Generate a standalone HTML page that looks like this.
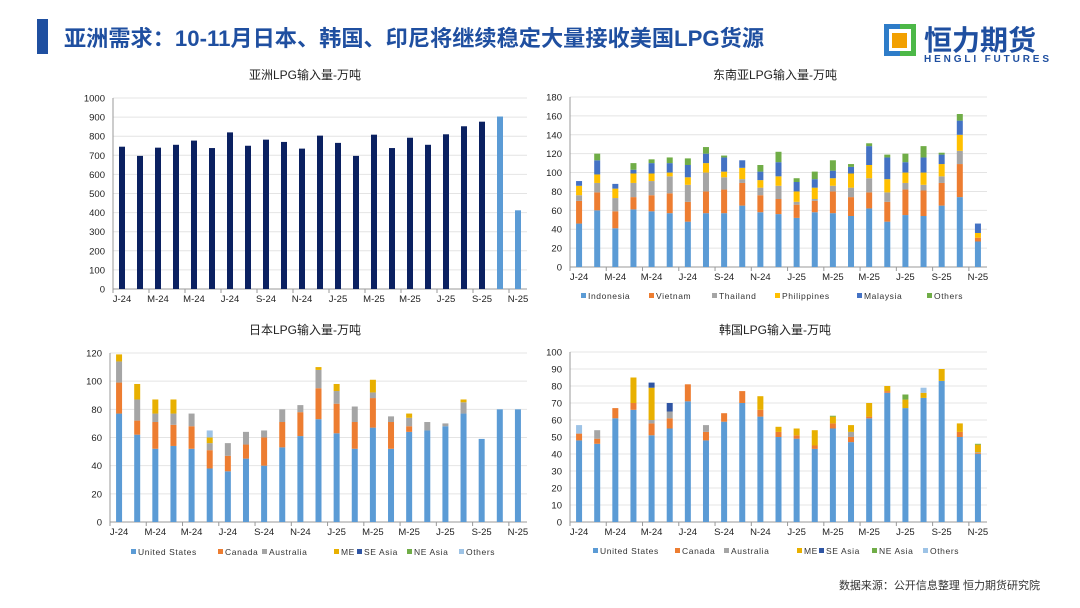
<!DOCTYPE html>
<html><head><meta charset="utf-8"><style>
body{margin:0;background:#fff;}
svg{display:block;font-family:"Liberation Sans","Noto Sans CJK SC",sans-serif;}
</style></head><body>
<svg id="s" width="1080" height="608" viewBox="0 0 1080 608">
<rect x="37" y="19" width="11" height="35" fill="#1F4FA0"/>
<text x="64" y="46" font-size="22" font-weight="bold" fill="#1F4FA0" textLength="700" lengthAdjust="spacingAndGlyphs">亚洲需求：10-11月日本、韩国、印尼将继续稳定大量接收美国LPG货源</text>
<g>
<rect x="884" y="24" width="16" height="32" fill="#2E7CC8"/><rect x="900" y="24" width="16" height="32" fill="#4CB848"/>
<rect x="889" y="29" width="22" height="22" fill="#fff"/><rect x="892" y="33" width="15" height="15" fill="#F2A000"/>
<text x="924" y="50" font-size="28" font-weight="bold" fill="#1F4FA0">恒力期货</text>
<text x="924" y="62" font-size="10" font-weight="bold" fill="#1F4FA0" textLength="125">HENGLI FUTURES</text>
</g>
<text x="1040" y="589" font-size="11" fill="#333" text-anchor="end">数据来源：公开信息整理  恒力期货研究院</text>
<g id="c1"></g>
<g id="c2"></g>
<g id="c3"></g>
<g id="c4"></g>
</svg>
<script>
const months = ["J-24","F-24","M-24","A-24","M-24","J-24","J-24","A-24","S-24","O-24","N-24","D-24","J-25","F-25","M-25","A-25","M-25","J-25","J-25","A-25","S-25","O-25","N-25"];
// Chart 1: Asia
const asiaTotal = [745,697,740,755,777,738,820,750,782,770,735,803,765,697,808,738,792,755,810,852,876,903,412];
const asiaTicks = [0,100,200,300,400,500,600,700,800,900,1000];
// Chart 2: SE Asia
const seaNames = ["Indonesia","Vietnam","Thailand","Philippines","Malaysia","Others"];
const seaIndonesia = [46,60,41,61,59,57,48,57,57,65,58,56,52,58,57,54,62,48,55,54,65,74,27];
const seaVietnam = [24,19,18,13,17,21,21,23,25,24,18,16,14,12,23,20,17,21,27,27,24,35,4];
const seaThailand = [6,10,14,15,15,18,18,20,13,4,8,14,3,2,6,10,15,10,7,6,7,14,0];
const seaPhilippines = [10,9,10,10,8,4,8,10,6,12,8,10,11,12,8,15,14,14,11,13,13,17,5];
const seaMalaysia = [5,15,5,4,11,10,13,10,15,8,9,15,10,9,8,7,20,23,11,16,10,15,10];
const seaOthers = [0,7,0,7,4,6,7,7,2,0,7,11,4,8,11,3,3,3,9,12,2,7,0];
const seaTicks = [0,20,40,60,80,100,120,140,160,180];
// Chart 3: Japan
const srcNames = ["United States","Canada","Australia","ME","SE Asia","NE Asia","Others"];
const jpUS = [77,62,52,54,52,38,36,45,40,53,61,73,63,52,67,52,64,65,68,77,59,80,80];
const jpCanada = [22,10,19,15,16,13,11,10,20,18,17,22,21,19,21,19,4,0,0,0,0,0,0];
const jpAustralia = [15,15,6,8,9,5,9,9,5,9,5,13,9,11,4,4,6,6,2,8,0,0,0];
const jpME = [5,11,10,10,0,4,0,0,0,0,0,2,5,0,9,0,3,0,0,2,0,0,0];
const jpSE = new Array(23).fill(0);
const jpNE = new Array(23).fill(0);
const jpOthers = [0,0,0,0,0,5,0,0,0,0,0,0,0,0,0,0,0,0,0,0,0,0,0];
const jpTicks = [0,20,40,60,80,100,120];
// Chart 4: Korea
const krUS = [48,46,61,66,51,55,71,48,59,70,62,50,49,43,55,47,61,76,67,73,83,50,40];
const krCanada = [4,3,6,4,7,6,10,5,5,7,4,3,2,2,3,3,1,1,0,0,0,3,0.5];
const krAustralia = [0,5,0,0,2,4,0,4,0,0,0,0,0,0,0,3,0,0,0,0,0,0,0.5];
const krME = [0,0,0,15,19,0,0,0,0,0,8,3,4,9,4,4,8,3,5,3,7,5,4.5];
const krSE = [0,0,0,0,3,5,0,0,0,0,0,0,0,0,0,0,0,0,0,0,0,0,0];
const krNE = [0,0,0,0,0,0,0,0,0,0,0,0,0,0,0.5,0,0,0,3,0,0,0,0.5];
const krOthers = [5,0,0,0,0,0,0,0,0,0,0,0,0,0,0,0,0,0,0,3,0,0,0];
const krTicks = [0,10,20,30,40,50,60,70,80,90,100];

const NS="http://www.w3.org/2000/svg";
function mk(parent,tag,attrs,text){const e=document.createElementNS(NS,tag);for(const k in attrs)e.setAttribute(k,attrs[k]);if(text!==undefined)e.textContent=text;parent.appendChild(e);return e;}

function chart(id,o){
  const g=document.getElementById(id);
  const maxV=o.ticks[o.ticks.length-1];
  const ys=v=>o.y0-(v/maxV)*(o.y0-o.y1);
  const n=months.length, cw=(o.x1-o.x0)/n;
  const xs=i=>o.x0+cw*(i+0.5);
  const t=mk(g,'text',{x:o.tx,y:o.ty,'font-size':12,'text-anchor':'middle',fill:'#222'},o.title);
  
  
  o.ticks.forEach(v=>{
    if(v>0){const l=mk(g,'line',{x1:o.x0,x2:o.x1,y1:ys(v),y2:ys(v),stroke:'#e4e4e4','stroke-width':1});
    
    }
    const tl=mk(g,'text',{x:o.x0-8,y:ys(v)+3.5,'font-size':9.5,'text-anchor':'end',fill:'#222'},v);
    
    
  });
  const ax=mk(g,'line',{x1:o.x0,x2:o.x0,y1:o.y1,y2:o.y0,stroke:'#999'});
  
  
  const bx=mk(g,'line',{x1:o.x0,x2:o.x1,y1:o.y0,y2:o.y0,stroke:'#999'});
  
  
  for(let i=0;i<=n;i++){if(i%2===1)continue;const tk=mk(g,'line',{x1:o.x0+cw*i,x2:o.x0+cw*i,y1:o.y0,y2:o.y0+4,stroke:'#999'});
    
    }
  months.forEach((m,i)=>{if(i%2)return;const xl=mk(g,'text',{x:xs(i),y:o.y0+13,'font-size':9.5,'text-anchor':'middle',fill:'#222'},m);
    
    });
  const bw=o.bw||6;
  for(let i=0;i<n;i++){let acc=0;
    o.series.forEach((s,k)=>{const v=s[i];if(!v)return;
      const col=o.colorFn?o.colorFn(i):o.colors[k];
      const r=mk(g,'rect',{x:xs(i)-bw/2,y:ys(acc+v),width:bw,height:ys(acc)-ys(acc+v),fill:col});
      
      
      acc+=v;});
  }
  if(o.names){let lx=o.lx;
    o.names.forEach((nm,k)=>{const lg=mk(g,'g',{});
      
      
      mk(lg,'rect',{x:lx,y:o.ly-6,width:5,height:5,fill:o.colors[k]});
      mk(lg,'text',{x:lx+7,y:o.ly,'font-size':8.5,fill:'#333','letter-spacing':'0.6'},nm);
      lx+=o.lgap[k];});
  }
}
chart('c1',{title:'亚洲LPG输入量-万吨',tx:305,ty:79,x0:113,x1:527,y0:289,y1:98,ticks:asiaTicks,series:[asiaTotal],
  colorFn:i=>i>=21?'#5B9BD5':'#0B2161',bw:6});
chart('c2',{title:'东南亚LPG输入量-万吨',tx:775,ty:79,x0:570,x1:987,y0:267,y1:97,ticks:seaTicks,
  series:[seaIndonesia,seaVietnam,seaThailand,seaPhilippines,seaMalaysia,seaOthers],names:seaNames,
  colors:['#5B9BD5','#ED7D31','#A5A5A5','#FFC000','#4472C4','#70AD47'],lx:581,ly:299,lgap:[68,63,63,82,70,60]});
chart('c3',{title:'日本LPG输入量-万吨',tx:305,ty:334,x0:110,x1:527,y0:522,y1:353,ticks:jpTicks,
  series:[jpUS,jpCanada,jpAustralia,jpME,jpSE,jpNE,jpOthers],names:srcNames,
  colors:['#5B9BD5','#ED7D31','#A5A5A5','#E8B000','#2F55A4','#70AD47','#9DC3E6'],lx:131,ly:555,lgap:[87,44,72,23,50,52,50]});
chart('c4',{title:'韩国LPG输入量-万吨',tx:775,ty:334,x0:570,x1:987,y0:522,y1:352,ticks:krTicks,
  series:[krUS,krCanada,krAustralia,krME,krSE,krNE,krOthers],names:srcNames,
  colors:['#5B9BD5','#ED7D31','#A5A5A5','#E8B000','#2F55A4','#70AD47','#9DC3E6'],lx:593,ly:554,lgap:[82,49,73,22,53,51,50]});
</script>
</body></html>
